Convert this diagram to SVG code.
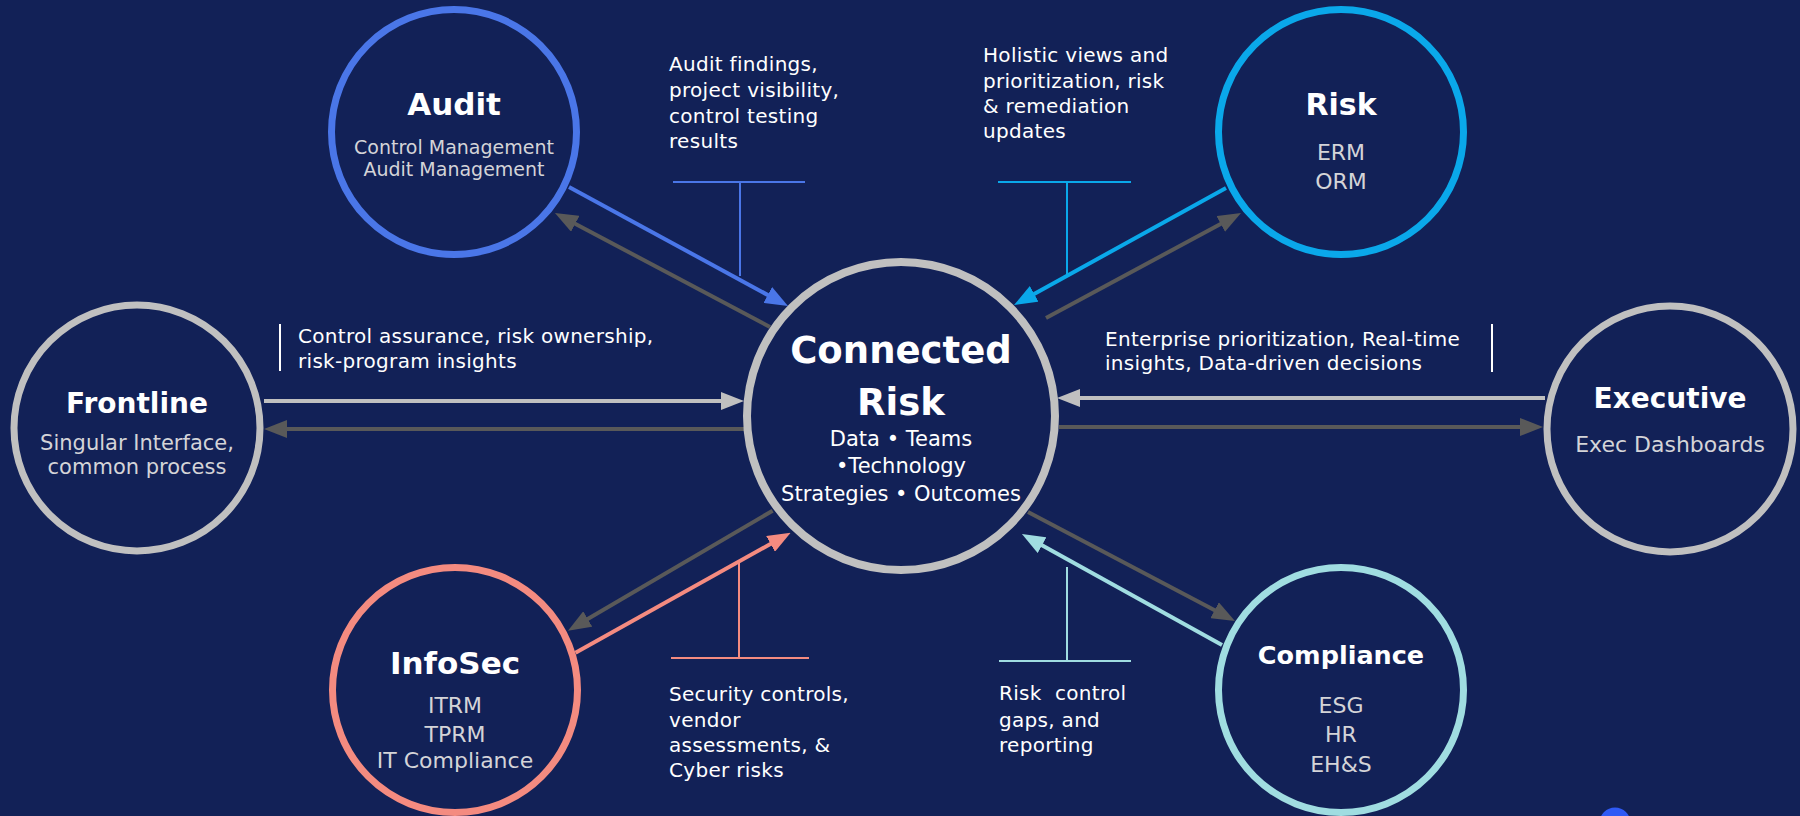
<svg xmlns="http://www.w3.org/2000/svg" width="1800" height="816" viewBox="0 0 1800 816">
  <style>
    .title { font-family: "DejaVu Sans", "Open Sans", sans-serif; font-weight: 700; fill: #ffffff; text-anchor: middle; }
    .sub { font-family: "DejaVu Sans", "Open Sans", sans-serif; font-weight: 400; fill: #d4d4d8; text-anchor: middle; }
    .hubsub { font-family: "DejaVu Sans", "Open Sans", sans-serif; font-weight: 400; fill: #ffffff; text-anchor: middle; font-size: 21px; }
    .label { font-family: "DejaVu Sans", "Open Sans", sans-serif; font-weight: 400; fill: #ffffff; font-size: 20px; letter-spacing: 0.3px; }
    .ring { fill: #122157; }
    .conn { fill: none; stroke-width: 4; }
    .tick { fill: none; stroke-width: 2; }
  </style>
  <defs>
    <marker id="ah-blue" markerUnits="userSpaceOnUse" markerWidth="23" markerHeight="18" refX="13" refY="9" orient="auto"><path d="M0,0 L23,9 L0,18 z" fill="#4a76e8"/></marker>
    <marker id="ah-cyan" markerUnits="userSpaceOnUse" markerWidth="23" markerHeight="18" refX="13" refY="9" orient="auto"><path d="M0,0 L23,9 L0,18 z" fill="#0aa8ea"/></marker>
    <marker id="ah-salmon" markerUnits="userSpaceOnUse" markerWidth="23" markerHeight="18" refX="13" refY="9" orient="auto"><path d="M0,0 L23,9 L0,18 z" fill="#f48b80"/></marker>
    <marker id="ah-teal" markerUnits="userSpaceOnUse" markerWidth="23" markerHeight="18" refX="13" refY="9" orient="auto"><path d="M0,0 L23,9 L0,18 z" fill="#a0dde1"/></marker>
    <marker id="ah-light" markerUnits="userSpaceOnUse" markerWidth="23" markerHeight="18" refX="13" refY="9" orient="auto"><path d="M0,0 L23,9 L0,18 z" fill="#c0c0c0"/></marker>
    <marker id="ah-dark" markerUnits="userSpaceOnUse" markerWidth="23" markerHeight="18" refX="13" refY="9" orient="auto"><path d="M0,0 L23,9 L0,18 z" fill="#595959"/></marker>
  </defs>

  <rect width="1800" height="816" fill="#122157"/>

  <!-- connectors between the hub and the outer nodes -->
  <g id="connectors">
    <line class="conn" x1="569" y1="187" x2="779.2" y2="301.2" stroke="#4a76e8" marker-end="url(#ah-blue)"/>
    <line class="conn" x1="770" y1="327" x2="563.8" y2="217.7" stroke="#595959" marker-end="url(#ah-dark)"/>
    <line class="conn" x1="1226" y1="188" x2="1022.8" y2="300.2" stroke="#0aa8ea" marker-end="url(#ah-cyan)"/>
    <line class="conn" x1="1046" y1="318" x2="1232.2" y2="217.7" stroke="#595959" marker-end="url(#ah-dark)"/>
    <line class="conn" x1="264" y1="401" x2="734" y2="401" stroke="#c0c0c0" marker-end="url(#ah-light)"/>
    <line class="conn" x1="744" y1="429" x2="274" y2="429" stroke="#595959" marker-end="url(#ah-dark)"/>
    <line class="conn" x1="1545" y1="398" x2="1067" y2="398" stroke="#c0c0c0" marker-end="url(#ah-light)"/>
    <line class="conn" x1="1059" y1="427" x2="1533" y2="427" stroke="#595959" marker-end="url(#ah-dark)"/>
    <line class="conn" x1="575.5" y1="652.7" x2="781.9" y2="537.6" stroke="#f48b80" marker-end="url(#ah-salmon)"/>
    <line class="conn" x1="772.6" y1="510.7" x2="576.6" y2="625.6" stroke="#595959" marker-end="url(#ah-dark)"/>
    <line class="conn" x1="1222" y1="645" x2="1030.7" y2="538.9" stroke="#a0dde1" marker-end="url(#ah-teal)"/>
    <line class="conn" x1="1028" y1="512" x2="1226.1" y2="616.3" stroke="#595959" marker-end="url(#ah-dark)"/>
  </g>

  <!-- connector captions with their leader marks -->
  <g id="connector-labels">
    <path class="tick" d="M673,182 H805 M740,182 V276" stroke="#4a76e8"/>
    <text class="label"><tspan x="669" y="71">Audit findings,</tspan><tspan x="669" y="97">project visibility,</tspan><tspan x="669" y="123">control testing</tspan><tspan x="669" y="148">results</tspan></text>

    <path class="tick" d="M998,182 H1131 M1067,182 V274" stroke="#0aa8ea"/>
    <text class="label"><tspan x="983" y="62">Holistic views and</tspan><tspan x="983" y="88">prioritization, risk</tspan><tspan x="983" y="113">&amp; remediation</tspan><tspan x="983" y="138">updates</tspan></text>

    <path class="tick" d="M280,324 V371" stroke="#ffffff"/>
    <text class="label"><tspan x="298" y="343">Control assurance, risk ownership,</tspan><tspan x="298" y="368">risk-program insights</tspan></text>

    <path class="tick" d="M1492,324 V372" stroke="#ffffff"/>
    <text class="label"><tspan x="1105" y="346">Enterprise prioritization, Real-time</tspan><tspan x="1105" y="370">insights, Data-driven decisions</tspan></text>

    <path class="tick" d="M671,658 H809 M739,658 V563" stroke="#f48b80"/>
    <text class="label"><tspan x="669" y="701">Security controls,</tspan><tspan x="669" y="727">vendor</tspan><tspan x="669" y="752">assessments, &amp;</tspan><tspan x="669" y="777">Cyber risks</tspan></text>

    <path class="tick" d="M999,661 H1131 M1067,661 V567" stroke="#a0dde1"/>
    <text class="label"><tspan x="999" y="700">Risk&#160; control</tspan><tspan x="999" y="727">gaps, and</tspan><tspan x="999" y="752">reporting</tspan></text>
  </g>

  <g id="node-hub">
    <circle class="ring" cx="901" cy="416" r="154" stroke="#c0c0c0" stroke-width="8"/>
    <text class="title" x="901" y="363" font-size="37">Connected</text>
    <text class="title" x="901" y="415" font-size="37">Risk</text>
    <text class="hubsub"><tspan x="901" y="446">Data • Teams</tspan><tspan x="901" y="473">•Technology</tspan><tspan x="901" y="501">Strategies • Outcomes</tspan></text>
  </g>

  <g id="node-audit">
    <circle class="ring" cx="454" cy="132" r="122.5" stroke="#4a76e8" stroke-width="7"/>
    <text class="title" x="454" y="115" font-size="31">Audit</text>
    <text class="sub" font-size="19"><tspan x="454" y="154">Control Management</tspan><tspan x="454" y="176">Audit Management</tspan></text>
  </g>

  <g id="node-risk">
    <circle class="ring" cx="1341" cy="132" r="122.5" stroke="#0aa8ea" stroke-width="7"/>
    <text class="title" x="1341" y="115" font-size="30">Risk</text>
    <text class="sub" font-size="22"><tspan x="1341" y="160">ERM</tspan><tspan x="1341" y="189">ORM</tspan></text>
  </g>

  <g id="node-frontline">
    <circle class="ring" cx="137" cy="428" r="123" stroke="#c0c0c0" stroke-width="7"/>
    <text class="title" x="137" y="413" font-size="28">Frontline</text>
    <text class="sub" font-size="21"><tspan x="137" y="450">Singular Interface,</tspan><tspan x="137" y="474">common process</tspan></text>
  </g>

  <g id="node-executive">
    <circle class="ring" cx="1670" cy="429" r="123" stroke="#c0c0c0" stroke-width="7"/>
    <text class="title" x="1670" y="408" font-size="28">Executive</text>
    <text class="sub" x="1670" y="452" font-size="22">Exec Dashboards</text>
  </g>

  <g id="node-infosec">
    <circle class="ring" cx="455" cy="690" r="122.5" stroke="#f48b80" stroke-width="7"/>
    <text class="title" x="455" y="674" font-size="31">InfoSec</text>
    <text class="sub" font-size="22"><tspan x="455" y="713">ITRM</tspan><tspan x="455" y="742">TPRM</tspan><tspan x="455" y="768">IT Compliance</tspan></text>
  </g>

  <g id="node-compliance">
    <circle class="ring" cx="1341" cy="690" r="122.5" stroke="#a0dde1" stroke-width="7"/>
    <text class="title" x="1341" y="664" font-size="25.5">Compliance</text>
    <text class="sub" font-size="22"><tspan x="1341" y="713">ESG</tspan><tspan x="1341" y="742">HR</tspan><tspan x="1341" y="772">EH&amp;S</tspan></text>
  </g>

  <circle cx="1615" cy="823" r="15.5" fill="#2f5af5"/>
</svg>
